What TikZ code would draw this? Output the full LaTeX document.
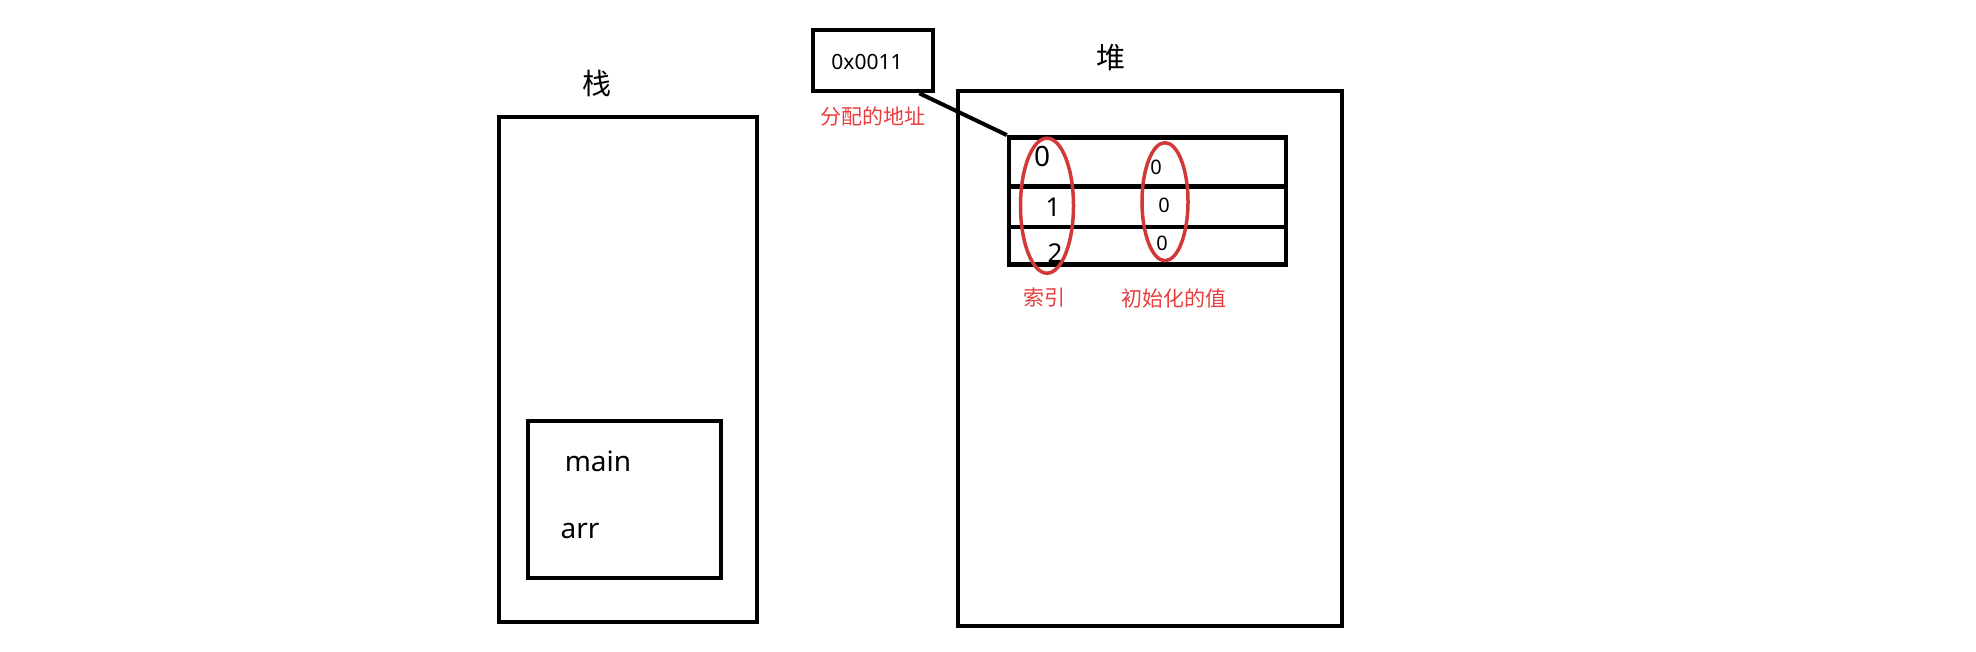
\documentclass[tikz,border=0pt]{standalone}
\usepackage{fontspec}
\setmainfont{Noto Sans}
\newfontfamily\cjk{Noto Sans CJK SC}
\definecolor{note}{RGB}{232, 62, 62}
\usetikzlibrary{shapes, calc}
\begin{document}
\begin{tikzpicture}[x=0.5pt, y=-0.5pt,
		box/.style={draw=black, line width=2.25pt, inner sep=0pt},
		elli/.style={ellipse, draw=note!90!black, line width=1.75pt, inner sep=0pt},
		redlabel/.style={text=note, font=\cjk\fontsize{10.5pt}{12pt}\selectfont},
		title/.style={font=\cjk\fontsize{14.5pt}{16pt}\selectfont}]
	\useasboundingbox (0,0) rectangle (1976,652);
	% stack side
	\node[box, minimum width=129pt, minimum height=252.5pt] (stack) at (628,369.5) {};
	\node[title] (stacklabel) at (597,83) {栈};
	\node[box, minimum width=96.5pt, minimum height=78.5pt] (frame) at (624.5,499.5) {};
	\node[font=\fontsize{14pt}{16pt}\selectfont] (mainlabel) at (598,461) {main};
	\node[font=\fontsize{14pt}{16pt}\selectfont] (arrlabel) at (580,531) {arr};
	% heap side
	\node[box, minimum width=192pt, minimum height=267.5pt] (heap) at (1150,358.5) {};
	\node[title] (heaplabel) at (1111,58) {堆};
	\node[box, minimum width=60pt, minimum height=30.5pt] (addr) at (873,60.5) {};
	\node[font=\fontsize{10.5pt}{12pt}\selectfont] (addrtext) at (867,62) {0x0011};
	\node[redlabel] (addrnote) at (873,117) {分配的地址};
	\node[box, minimum width=138.5pt, minimum height=63.5pt] (table) at (1147.5,200.8) {};
	\draw[line width=2.25pt] ($(table.north west)!0.39!(table.south west)$) -- ($(table.north east)!0.39!(table.south east)$);
	\draw[line width=2.25pt] ($(table.north west)!0.70!(table.south west)$) -- ($(table.north east)!0.70!(table.south east)$);
	\draw[line width=2pt] ([xshift=-8pt]addr.south east) -- (table.north west);
	% indices and values
	\node[font=\fontsize{14pt}{16pt}\selectfont] (idx0) at (1042,156) {0};
	\node[font=\fontsize{13pt}{15pt}\selectfont] (idx1) at (1053,207) {1};
	\node[font=\fontsize{13pt}{15pt}\selectfont] (idx2) at (1055,253) {2};
	\node[font=\fontsize{10pt}{12pt}\selectfont] (val0) at (1156,167) {0};
	\node[font=\fontsize{10pt}{12pt}\selectfont] (val1) at (1164,205) {0};
	\node[font=\fontsize{10pt}{12pt}\selectfont] (val2) at (1162,243) {0};
	\node[elli, minimum width=26.5pt, minimum height=67.5pt] (idxring) at (1047,205.7) {};
	\node[elli, minimum width=23pt, minimum height=59pt] (valring) at (1165,201.7) {};
	\node[redlabel] (idxnote) at (1044,298) {索引};
	\node[redlabel] (valnote) at (1174,298) {初始化的值};
\end{tikzpicture}
\end{document}
